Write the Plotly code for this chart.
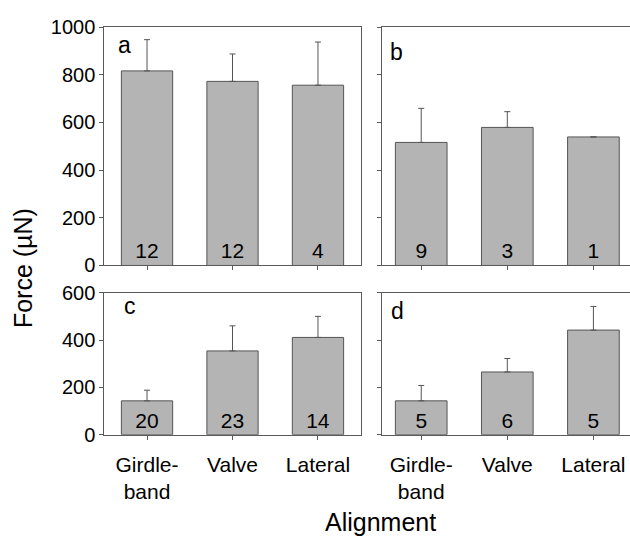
import plotly.graph_objects as go

# ---- data ----
categories = ["Girdle-<br>band", "Valve", "Lateral"]

force_a = [816, 772, 756]
err_a = [131, 115, 181]
n_a = [12, 12, 4]

force_b = [516, 579, 539]
err_b = [143, 66, None]
n_b = [9, 3, 1]

force_c = [143, 354, 411]
err_c = [45, 106, 89]
n_c = [20, 23, 14]

force_d = [143, 265, 442]
err_d = [65, 57, 100]
n_d = [5, 6, 5]

panel_labels = ["a", "b", "c", "d"]
y_title = "Force (µN)"
x_title = "Alignment"

# ---- styling ----
W, H = 630, 539
FONT = "Liberation Sans, Arial, Helvetica, sans-serif"
BAR_FILL = "#b4b4b4"
EDGE = "#555555"
AXIS = "#5a5a5a"


def px_x(x):
    return x / W


def px_y(y):
    return 1 - y / H


fig = go.Figure()

panels = [
    (force_a, err_a, n_a, "x", "y"),
    (force_b, err_b, n_b, "x2", "y2"),
    (force_c, err_c, n_c, "x3", "y3"),
    (force_d, err_d, n_d, "x4", "y4"),
]

for vals, errs, ns, xa, ya in panels:
    fig.add_trace(go.Bar(
        x=categories, y=vals, xaxis=xa, yaxis=ya,
        width=0.6,
        marker=dict(color=BAR_FILL, line=dict(color=EDGE, width=1)),
        error_y=dict(type="data", symmetric=False, array=errs,
                     arrayminus=[0] * len(vals), color=EDGE,
                     thickness=1, width=3),
        text=[str(n) for n in ns],
        textposition="inside", insidetextanchor="start", textangle=0,
        constraintext="none",
        insidetextfont=dict(family=FONT, size=21, color="black"),
        hoverinfo="skip",
    ))

top_y = [px_y(265.3), px_y(16.7)]
bot_y = [px_y(441.7), px_y(293.7)]
left_x = [px_x(104.3), px_x(360.7)]
right_x = [px_x(381.7), 1.0]

common_x = dict(showline=True, linecolor=AXIS, linewidth=1, ticks="outside",
                ticklen=4, tickcolor=AXIS, showgrid=False, zeroline=False,
                ticklabelstandoff=7,
                tickfont=dict(family=FONT, size=21, color="black"))
common_y = dict(showline=True, linecolor=AXIS, linewidth=1, ticks="outside",
                ticklen=4, tickcolor=AXIS, showgrid=False, zeroline=False,
                tickfont=dict(family=FONT, size=20, color="black"))

fig.update_layout(
    width=W, height=H,
    margin=dict(l=0, r=0, t=0, b=0),
    paper_bgcolor="white", plot_bgcolor="white",
    showlegend=False, bargap=0.4,
    xaxis=dict(domain=left_x, anchor="y", range=[-0.5, 2.5], mirror=True,
               showticklabels=False, **common_x),
    yaxis=dict(domain=top_y, anchor="x", range=[0, 1000], dtick=200, mirror=True,
               **common_y),
    xaxis2=dict(domain=right_x, anchor="y2", range=[-0.459, 2.425], mirror=True,
                showticklabels=False, **common_x),
    yaxis2=dict(domain=top_y, anchor="x2", range=[0, 1000], dtick=200, mirror=False,
                showticklabels=False, **common_y),
    xaxis3=dict(domain=left_x, anchor="y3", range=[-0.5, 2.5], mirror=True,
                **common_x),
    yaxis3=dict(domain=bot_y, anchor="x3", range=[0, 600], dtick=200, mirror=True,
                **common_y),
    xaxis4=dict(domain=right_x, anchor="y4", range=[-0.459, 2.425], mirror=True,
                **common_x),
    yaxis4=dict(domain=bot_y, anchor="x4", range=[0, 600], dtick=200, mirror=False,
                showticklabels=False, **common_y),
)

letter_pos = [(115.7, 35.5), (388.3, 42.3), (121.7, 307.3), (389.3, 312.3)]
for lab, (lx, ly) in zip(panel_labels, letter_pos):
    fig.add_annotation(text=lab, xref="paper", yref="paper",
                       x=px_x(lx), y=px_y(ly), xanchor="left", yanchor="middle",
                       showarrow=False, font=dict(family=FONT, size=23, color="black"))

fig.add_annotation(text=y_title, xref="paper", yref="paper",
                   x=px_x(23), y=px_y(268), textangle=-90,
                   xanchor="center", yanchor="middle", showarrow=False,
                   font=dict(family=FONT, size=25, color="black"))
fig.add_annotation(text=x_title, xref="paper", yref="paper",
                   x=px_x(380), y=px_y(533), xanchor="center", yanchor="middle",
                   showarrow=False, font=dict(family=FONT, size=25, color="black"))

fig.write_html("out.html")
